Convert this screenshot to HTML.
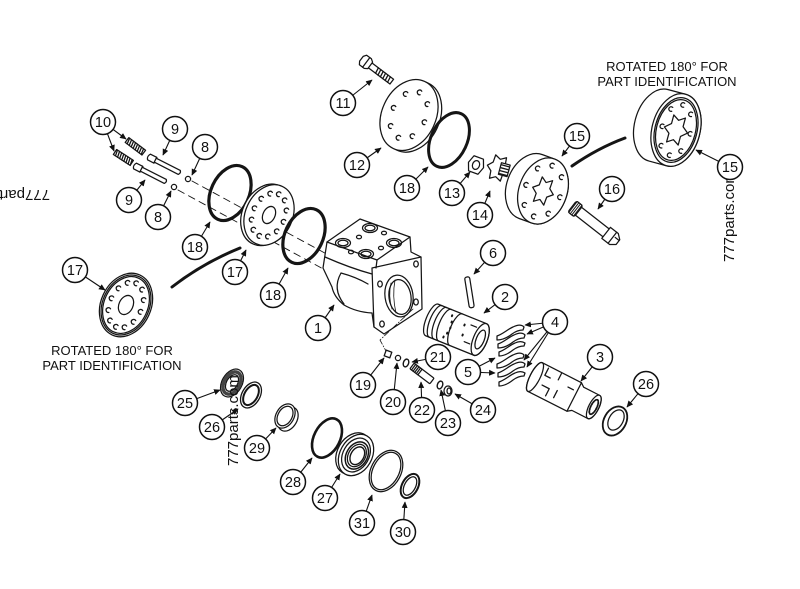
<!DOCTYPE html>
<html><head><meta charset="utf-8">
<style>
html,body{margin:0;padding:0;background:#fff;}
svg{display:block;}
text{font-family:"Liberation Sans",Arial,sans-serif;fill:#111;}
</style></head><body>
<svg width="800" height="589" viewBox="0 0 800 589" xmlns="http://www.w3.org/2000/svg">
<defs>
<marker id="ah" viewBox="0 0 10 10" refX="9" refY="5" markerWidth="6" markerHeight="6" orient="auto"><path d="M0,0.5 L10,5 L0,9.5 z" fill="#111" stroke="none"/></marker>
</defs>

<g fill="none" stroke="#151515" stroke-width="1.25" stroke-linejoin="round" stroke-linecap="round">

<path d="M192,181 L345,264 M178,190 L338,277" stroke-dasharray="7,5" stroke-width="0.9"/>

<g transform="translate(127,140) rotate(37)">
 <rect x="0" y="-3" width="21" height="6" fill="#fff"/>
 <path d="M1,-3 l1.5,6 M3.5,-3 l1.5,6 M6,-3 l1.5,6 M8.5,-3 l1.5,6 M11,-3 l1.5,6 M13.5,-3 l1.5,6 M16,-3 l1.5,6 M18.5,-3 l1.5,6" stroke-width="1.3"/>
</g>
<g transform="translate(115,152) rotate(33)">
 <rect x="0" y="-3" width="20" height="6" fill="#fff"/>
 <path d="M1,-3 l1.5,6 M3.5,-3 l1.5,6 M6,-3 l1.5,6 M8.5,-3 l1.5,6 M11,-3 l1.5,6 M13.5,-3 l1.5,6 M16,-3 l1.5,6 M18.5,-3 l1.5,6" stroke-width="1.3"/>
</g>

<g transform="translate(149,157) rotate(27)">
 <path d="M0,-3.2 L7,-3.2 L8,-2.2 L34,-2.2 Q36,0 34,2.2 L8,2.2 L7,3.2 L0,3.2 Q-2.5,0 0,-3.2 Z" fill="#fff"/>
 <path d="M7,-3.2 L7,3.2"/>
</g>
<g transform="translate(135,166) rotate(27)">
 <path d="M0,-3.2 L7,-3.2 L8,-2.2 L34,-2.2 Q36,0 34,2.2 L8,2.2 L7,3.2 L0,3.2 Q-2.5,0 0,-3.2 Z" fill="#fff"/>
 <path d="M7,-3.2 L7,3.2"/>
</g>

<circle cx="188" cy="179" r="2.6" fill="#fff"/>
<circle cx="174" cy="187" r="2.6" fill="#fff"/>

<ellipse cx="230" cy="193" rx="19" ry="29" transform="rotate(25 230 193)" stroke-width="3.2"/>

<g transform="translate(269,215) rotate(25)">
 <ellipse cx="-2.5" cy="1" rx="24" ry="32" fill="#fff"/>
 <ellipse cx="0" cy="0" rx="23.5" ry="31.5" fill="#fff"/>
 <ellipse rx="6" ry="9"/>
 <path d="M17.5,-2 a2.4,2.4 0 1 0 0,4 M15.4,9.5 a2.4,2.4 0 1 0 0,4 M9.5,17.9 a2.4,2.4 0 1 0 0,4 M1.5,21 a2.4,2.4 0 1 0 0,4 M-6.5,17.9 a2.4,2.4 0 1 0 0,4 M-12.4,9.5 a2.4,2.4 0 1 0 0,4 M-14.5,-2 a2.4,2.4 0 1 0 0,4 M-12.4,-13.5 a2.4,2.4 0 1 0 0,4 M-6.5,-21.9 a2.4,2.4 0 1 0 0,4 M1.5,-25 a2.4,2.4 0 1 0 0,4 M9.5,-21.9 a2.4,2.4 0 1 0 0,4 M15.4,-13.5 a2.4,2.4 0 1 0 0,4"/>
</g>

<ellipse cx="304" cy="236" rx="19" ry="29" transform="rotate(25 304 236)" stroke-width="3.2"/>

<g transform="translate(126,305) rotate(25)">
 <ellipse rx="25" ry="33" fill="#fff"/>
 <ellipse rx="23.3" ry="31.2"/>
 <ellipse rx="21.8" ry="29.6"/>
 <ellipse rx="7" ry="10"/>
 <path d="M17.5,-2 a2.4,2.4 0 1 0 0,4 M15.4,10 a2.4,2.4 0 1 0 0,4 M9.5,18.8 a2.4,2.4 0 1 0 0,4 M1.5,22 a2.4,2.4 0 1 0 0,4 M-6.5,18.8 a2.4,2.4 0 1 0 0,4 M-12.4,10 a2.4,2.4 0 1 0 0,4 M-14.5,-2 a2.4,2.4 0 1 0 0,4 M-12.4,-14 a2.4,2.4 0 1 0 0,4 M-6.5,-22.8 a2.4,2.4 0 1 0 0,4 M1.5,-26 a2.4,2.4 0 1 0 0,4 M9.5,-22.8 a2.4,2.4 0 1 0 0,4 M15.4,-14 a2.4,2.4 0 1 0 0,4"/>
</g>

<path d="M172,287 Q203,263 240,248" stroke-width="3"/>
<path d="M572,166 Q598,148 625,138" stroke-width="3"/>

<path d="M327,242 L360,219 L410,237 L411,252 L421,257 L422,309 L384,334 L374,327 L372,313 Q356,312 344,305 Q334,297 332,287 L323,268 Z" fill="#fff"/>
<path d="M327,242 L377,260 L410,237"/>
<path d="M377,260 L376,268 M372,268 L421,257 M372,268 L374,327"/>
<path d="M341,273 Q332,289 344,304 M341,273 Q356,277 368,284"/>
<path d="M325,257 Q350,268 372,274"/>
<ellipse cx="370" cy="228" rx="7.5" ry="4.5"/><ellipse cx="370" cy="228" rx="5" ry="2.8"/>
<ellipse cx="343" cy="243" rx="7.5" ry="4.5"/><ellipse cx="343" cy="243" rx="5" ry="2.8"/>
<ellipse cx="394" cy="243" rx="7.5" ry="4.5"/><ellipse cx="394" cy="243" rx="5" ry="2.8"/>
<ellipse cx="366" cy="254" rx="7.5" ry="4.5"/><ellipse cx="366" cy="254" rx="5" ry="2.8"/>
<ellipse cx="359" cy="237" rx="2.5" ry="1.8"/>
<ellipse cx="384" cy="233" rx="2.5" ry="1.8"/>
<ellipse cx="351" cy="252" rx="2.5" ry="1.8"/>
<ellipse cx="381" cy="248" rx="2.5" ry="1.8"/>
<ellipse cx="380" cy="284" rx="2.3" ry="3"/>
<ellipse cx="416" cy="264" rx="2.3" ry="3"/>
<ellipse cx="416" cy="302" rx="2.3" ry="3"/>
<ellipse cx="382" cy="324" rx="2.3" ry="3"/>
<ellipse cx="399" cy="296" rx="14" ry="21" transform="rotate(-8 399 296)"/>
<ellipse cx="400" cy="297" rx="11" ry="17.5" transform="rotate(-8 400 297)"/>
<path d="M391,283 Q388,296 392,309 M395,280 Q392,296 396,313" stroke-width="0.8"/>

<g transform="translate(467,277) rotate(-9)">
 <rect x="-2.5" y="0" width="5" height="31" rx="2" fill="#fff"/>
</g>

<g transform="translate(432,320) rotate(22)">
 <path d="M0,-17 L52,-17 A7,17 0 0 1 52,17 L0,17 A6,17 0 0 1 0,-17 Z" fill="#fff"/>
 <path d="M4,-17 A6,17 0 0 0 4,17 M9,-17 A6,17 0 0 0 9,17 M14,-17 A6,17 0 0 0 14,17 M26,-17 A6,17 0 0 0 26,17"/>
 <path d="M17,-12 l0,1 M19,-6 l0,1 M20,0 l0,1 M19,6 l0,1 M17,11 l0,1 M32,-8 l0,1 M34,2 l0,1" stroke-width="2"/>
 <ellipse cx="52" cy="0" rx="7" ry="17"/>
 <ellipse cx="52" cy="0" rx="4" ry="10"/>
 <path d="M38,-10 L44,-10 M38,8 L44,8"/>
</g>

<path d="M497,336 C503,334 508,329 513,327 C517,325 521,324 524,327 L523,330 C519,330 516,331 512,334 C507,338 502,340 497,340 Z" fill="#fff"/>
<path d="M498,344 C504,342 509,337 514,335 C518,333 522,332 525,335 L524,338 C520,338 517,339 513,342 C508,346 503,348 498,348 Z" fill="#fff"/>
<path d="M499,352 C505,350 510,345 515,343 C519,341 522,341 525,343 L524,346 C520,346 517,347 513,350 C508,354 503,356 499,356 Z" fill="#fff"/>
<path d="M497,364 C503,362 508,357 513,355 C517,353 521,352 524,355 L523,358 C519,358 516,359 512,362 C507,366 502,368 497,368 Z" fill="#fff"/>
<path d="M498,373 C504,371 509,366 514,364 C518,362 522,361 525,364 L524,367 C520,367 517,368 513,371 C508,375 503,377 498,377 Z" fill="#fff"/>
<path d="M499,382 C505,380 510,375 515,373 C519,371 522,371 525,373 L524,376 C520,376 517,377 513,380 C508,384 503,386 499,386 Z" fill="#fff"/>

<g transform="translate(535,377) rotate(27)">
 <path d="M0,-16 L44,-16 L48,-13 L66,-13 A5,13 0 0 1 66,13 L48,13 L44,16 L0,16 A5,16 0 0 1 0,-16 Z" fill="#fff"/>
 <ellipse cx="0" cy="0" rx="5" ry="16"/>
 <ellipse cx="66" cy="0" rx="5" ry="13"/>
 <ellipse cx="66" cy="0" rx="3" ry="8" stroke-dasharray="1.5,1.2" stroke-width="1.8"/>
 <path d="M8,-14 L8,-6 L14,-6 M10,4 L18,4 L18,12 M22,-15 L22,-8 M26,2 L26,10 M34,-6 L40,-6" stroke-width="1.3"/>
 <path d="M44,-16 L44,16"/>
</g>

<ellipse cx="615" cy="421" rx="11" ry="15.5" transform="rotate(30 615 421)" stroke-width="1.8" fill="#fff"/>
<ellipse cx="616" cy="420" rx="7" ry="11" transform="rotate(30 616 420)"/>

<path d="M413,309 L380,340 L386,351" stroke-dasharray="6,2,1,2" stroke-width="0.8"/>
<rect x="385" y="351" width="6" height="6" transform="rotate(20 388 354)" fill="#fff" stroke-width="1.3"/>
<circle cx="398" cy="358" r="2.6" fill="#fff"/>
<ellipse cx="406" cy="363" rx="2.6" ry="4" transform="rotate(20 406 363)" stroke-width="1.4"/>
<g transform="translate(412,366) rotate(37)">
 <rect x="0" y="-3.5" width="25" height="7" rx="1" fill="#fff"/>
 <path d="M2,-3.5 l0,7 M4,-3.5 l0,7 M6,-3.5 l0,7 M8,-3.5 l0,7 M10,-3.5 l0,7"/>
</g>
<ellipse cx="440" cy="385" rx="2.6" ry="4" transform="rotate(20 440 385)" stroke-width="1.4"/>
<ellipse cx="448" cy="391" rx="4" ry="5" fill="#fff"/>
<ellipse cx="449" cy="391" rx="2" ry="3"/>

<ellipse cx="232" cy="383" rx="10" ry="15" transform="rotate(30 232 383)" fill="#fff"/>
<ellipse cx="232" cy="383" rx="7.8" ry="12" transform="rotate(30 232 383)" stroke-width="3.5" stroke-dasharray="1.5,1.3" stroke="#444"/>
<ellipse cx="232" cy="383" rx="5.5" ry="9" transform="rotate(30 232 383)"/>
<ellipse cx="251" cy="395" rx="9" ry="14" transform="rotate(30 251 395)" fill="#fff" stroke-width="1.3"/>
<ellipse cx="251" cy="395" rx="6.5" ry="11" transform="rotate(30 251 395)" stroke-width="2"/>
<ellipse cx="288" cy="419" rx="9" ry="13" transform="rotate(30 288 419)" fill="#fff"/>
<ellipse cx="285" cy="416" rx="9" ry="13" transform="rotate(30 285 416)" fill="#fff"/>
<ellipse cx="285" cy="416" rx="7" ry="10.5" transform="rotate(30 285 416)"/>
<ellipse cx="327" cy="438" rx="13" ry="21" transform="rotate(27 327 438)" stroke-width="2.6"/>
<g transform="translate(356,455) rotate(30)">
 <ellipse cx="-3" cy="0" rx="16" ry="22" fill="#fff"/>
 <ellipse rx="16" ry="22" fill="#fff"/>
 <ellipse rx="13" ry="18"/>
 <ellipse cx="1" rx="10.5" ry="14.5" stroke-width="1.5"/>
 <ellipse cx="1" rx="8.5" ry="12"/>
 <ellipse cx="1.5" rx="6.5" ry="9.5" stroke-width="1.4"/>
</g>
<ellipse cx="386" cy="471" rx="15" ry="22" transform="rotate(28 386 471)"/>
<ellipse cx="386" cy="471" rx="13" ry="20" transform="rotate(28 386 471)"/>
<ellipse cx="410" cy="486" rx="8" ry="13" transform="rotate(28 410 486)" stroke-width="2"/>
<ellipse cx="410" cy="486" rx="5.5" ry="10" transform="rotate(28 410 486)"/>

<g transform="translate(367,63) rotate(37)">
 <rect x="3" y="-3" width="28" height="6" fill="#fff"/>
 <path d="M12,-3 l1,6 M15,-3 l1,6 M18,-3 l1,6 M21,-3 l1,6 M24,-3 l1,6 M27,-3 l1,6" stroke-width="1.3"/>
 <path d="M-5,-6 L1,-6 L4,-4 L4,4 L1,6 L-5,6 L-7,3 L-7,-3 Z" fill="#fff"/>
 <path d="M-1,-6 L-1,6"/>
</g>

<g transform="translate(409,115) rotate(25)">
 <ellipse cx="4" cy="0" rx="27" ry="37" fill="#fff"/>
 <ellipse cx="0" cy="0" rx="27" ry="37" fill="#fff"/>
 <path d="M18.5,-2 a2.4,2.4 0 1 0 0,4 M13.5,15.7 a2.4,2.4 0 1 0 0,4 M1.5,23 a2.4,2.4 0 1 0 0,4 M-10.5,15.7 a2.4,2.4 0 1 0 0,4 M-15.5,-2 a2.4,2.4 0 1 0 0,4 M-10.5,-19.7 a2.4,2.4 0 1 0 0,4 M1.5,-27 a2.4,2.4 0 1 0 0,4 M13.5,-19.7 a2.4,2.4 0 1 0 0,4"/>
</g>

<ellipse cx="449" cy="140" rx="18" ry="29" transform="rotate(25 449 140)" stroke-width="3"/>

<g transform="translate(476,165) rotate(20)">
 <path d="M-5,-8 L5,-8 L8,0 L5,8 L-5,8 L-8,0 Z" fill="#fff"/>
 <ellipse rx="3.5" ry="4.5"/>
</g>

<g transform="translate(498,168) rotate(15)">
 <path d="M11,0 L6.2,4.5 L5.6,12.1 L0,9 L-5.6,12.1 L-6.2,4.5 L-11,0 L-6.2,-4.5 L-5.6,-12.1 L0,-9 L5.6,-12.1 L6.2,-4.5 Z" fill="#fff"/>
 <rect x="2" y="-6" width="9" height="12" fill="#fff"/>
 <path d="M3,-4 L10,-4 M3,-1 L10,-1 M3,2 L10,2 M3,5 L10,5" stroke-width="1.3"/>
</g>

<g transform="translate(543,191) rotate(20)">
 <path d="M-13,-34 L0,-34 A24,34 0 0 1 0,34 L-13,34 A24,34 0 0 1 -13,-34 Z" fill="#fff"/>
 <ellipse rx="24" ry="34" fill="#fff"/>
 <path d="M11,0 L5.6,4.5 L5.5,13 L0,9 L-5.5,13 L-5.6,4.5 L-11,0 L-5.6,-4.5 L-5.5,-13 L0,-9 L5.5,-13 L5.6,-4.5 Z"/>
 <path d="M19.5,-2 a2.4,2.4 0 1 0 0,4 M14.2,17.4 a2.4,2.4 0 1 0 0,4 M1.5,25 a2.4,2.4 0 1 0 0,4 M-11.2,17.4 a2.4,2.4 0 1 0 0,4 M-16.5,-2 a2.4,2.4 0 1 0 0,4 M-11.2,-21.4 a2.4,2.4 0 1 0 0,4 M1.5,-29 a2.4,2.4 0 1 0 0,4 M14.2,-21.4 a2.4,2.4 0 1 0 0,4"/>
</g>

<g transform="translate(676,130) rotate(15)">
 <path d="M-18,-37 L0,-37 A24,37 0 0 1 0,37 L-18,37 A24,37 0 0 1 -18,-37 Z" fill="#fff"/>
 <ellipse rx="24" ry="37" fill="#fff"/>
 <ellipse rx="21" ry="33"/>
 <ellipse rx="19.5" ry="31"/>
 <path d="M12,0 L6,5 L6,14 L0,10 L-6,14 L-6,5 L-12,0 L-6,-5 L-6,-14 L0,-10 L6,-14 L6,-5 Z"/>
 <path d="M16,-2 a2.3,2.3 0 1 0 0,4 M11.5,17 a2.3,2.3 0 1 0 0,4 M1.5,24 a2.3,2.3 0 1 0 0,4 M-9,17 a2.3,2.3 0 1 0 0,4 M-13,-2 a2.3,2.3 0 1 0 0,4 M-9,-21 a2.3,2.3 0 1 0 0,4 M1.5,-28 a2.3,2.3 0 1 0 0,4 M11.5,-21 a2.3,2.3 0 1 0 0,4"/>
</g>

<g transform="translate(573,207) rotate(38)">
 <rect x="3" y="-5" width="42" height="10" fill="#fff"/>
 <path d="M42,-7 L52,-7 L57,-3 L57,3 L52,7 L42,7 Z" fill="#fff"/>
 <path d="M50,-7 L50,7 M52,-2 L57,-2"/>
 <rect x="-1" y="-7" width="8" height="14" rx="2" fill="#fff"/>
 <path d="M0,-7 l0,14 M2,-7 l0,14 M4,-7 l0,14 M6,-7 l0,14" stroke-width="1"/>
</g>
</g>

<text x="667" y="71" text-anchor="middle" font-size="13">ROTATED 180° FOR</text>
<text x="667" y="86" text-anchor="middle" font-size="13">PART IDENTIFICATION</text>
<text x="112" y="355" text-anchor="middle" font-size="13">ROTATED 180° FOR</text>
<text x="112" y="370" text-anchor="middle" font-size="13">PART IDENTIFICATION</text>
<text transform="translate(734,262) rotate(-90)" font-size="15">777parts.com</text>
<text transform="translate(238,466) rotate(-90)" font-size="15">777parts.com</text>
<text transform="translate(50,190) rotate(180)" font-size="15">777parts</text>

<g stroke="#111" stroke-width="1.1" fill="none" marker-end="url(#ah)">
<path d="M343,103 L372,80"/>
<path d="M357,165 L381,148"/>
<path d="M407,188 L428,167"/>
<path d="M452,193 L470,172"/>
<path d="M480,215 L490,191"/>
<path d="M577,136 L562,156"/>
<path d="M612,189 L598,209"/>
<path d="M730,167 L696,150"/>
<path d="M103,122 L126,139"/>
<path d="M103,122 L114,151"/>
<path d="M175,129 L163,155"/>
<path d="M205,147 L192,175"/>
<path d="M129,200 L145,180"/>
<path d="M158,217 L171,191"/>
<path d="M195,247 L210,222"/>
<path d="M235,272 L246,250"/>
<path d="M273,295 L288,268"/>
<path d="M75,270 L105,290"/>
<path d="M318,328 L334,305"/>
<path d="M493,253 L474,274"/>
<path d="M505,297 L484,313"/>
<path d="M555,322 L525,325"/>
<path d="M555,322 L527,334"/>
<path d="M555,322 L524,360"/>
<path d="M555,322 L527,367"/>
<path d="M468,372 L495,358"/>
<path d="M468,372 L495,373"/>
<path d="M600,357 L581,381"/>
<path d="M646,384 L627,407"/>
<path d="M438,357 L412,362"/>
<path d="M363,385 L384,358"/>
<path d="M393,402 L397,363"/>
<path d="M422,410 L421,382"/>
<path d="M448,423 L441,390"/>
<path d="M483,410 L455,394"/>
<path d="M185,403 L220,390"/>
<path d="M212,427 L238,409"/>
<path d="M257,448 L276,428"/>
<path d="M293,482 L312,458"/>
<path d="M325,498 L340,474"/>
<path d="M362,523 L372,495"/>
<path d="M403,532 L405,502"/>
</g>

<g fill="#fff" stroke="#111" stroke-width="1.5">
<circle cx="343" cy="103" r="12.5"/><circle cx="357" cy="165" r="12.5"/><circle cx="407" cy="188" r="12.5"/>
<circle cx="452" cy="193" r="12.5"/><circle cx="480" cy="215" r="12.5"/><circle cx="577" cy="136" r="12.5"/>
<circle cx="612" cy="189" r="12.5"/><circle cx="730" cy="167" r="12.5"/><circle cx="103" cy="122" r="12.5"/>
<circle cx="175" cy="129" r="12.5"/><circle cx="205" cy="147" r="12.5"/><circle cx="129" cy="200" r="12.5"/>
<circle cx="158" cy="217" r="12.5"/><circle cx="195" cy="247" r="12.5"/><circle cx="235" cy="272" r="12.5"/>
<circle cx="273" cy="295" r="12.5"/><circle cx="75" cy="270" r="12.5"/><circle cx="318" cy="328" r="12.5"/>
<circle cx="493" cy="253" r="12.5"/><circle cx="505" cy="297" r="12.5"/><circle cx="555" cy="322" r="12.5"/>
<circle cx="468" cy="372" r="12.5"/><circle cx="600" cy="357" r="12.5"/><circle cx="646" cy="384" r="12.5"/>
<circle cx="438" cy="357" r="12.5"/><circle cx="363" cy="385" r="12.5"/><circle cx="393" cy="402" r="12.5"/>
<circle cx="422" cy="410" r="12.5"/><circle cx="448" cy="423" r="12.5"/><circle cx="483" cy="410" r="12.5"/>
<circle cx="185" cy="403" r="12.5"/><circle cx="212" cy="427" r="12.5"/><circle cx="257" cy="448" r="12.5"/>
<circle cx="293" cy="482" r="12.5"/><circle cx="325" cy="498" r="12.5"/><circle cx="362" cy="523" r="12.5"/>
<circle cx="403" cy="532" r="12.5"/>
</g>
<g font-size="14.5" text-anchor="middle">
<text x="343" y="108">11</text><text x="357" y="170">12</text><text x="407" y="193">18</text>
<text x="452" y="198">13</text><text x="480" y="220">14</text><text x="577" y="141">15</text>
<text x="612" y="194">16</text><text x="730" y="172">15</text><text x="103" y="127">10</text>
<text x="175" y="134">9</text><text x="205" y="152">8</text><text x="129" y="205">9</text>
<text x="158" y="222">8</text><text x="195" y="252">18</text><text x="235" y="277">17</text>
<text x="273" y="300">18</text><text x="75" y="275">17</text><text x="318" y="333">1</text>
<text x="493" y="258">6</text><text x="505" y="302">2</text><text x="555" y="327">4</text>
<text x="468" y="377">5</text><text x="600" y="362">3</text><text x="646" y="389">26</text>
<text x="438" y="362">21</text><text x="363" y="390">19</text><text x="393" y="407">20</text>
<text x="422" y="415">22</text><text x="448" y="428">23</text><text x="483" y="415">24</text>
<text x="185" y="408">25</text><text x="212" y="432">26</text><text x="257" y="453">29</text>
<text x="293" y="487">28</text><text x="325" y="503">27</text><text x="362" y="528">31</text>
<text x="403" y="537">30</text>
</g>
</svg>
</body></html>
